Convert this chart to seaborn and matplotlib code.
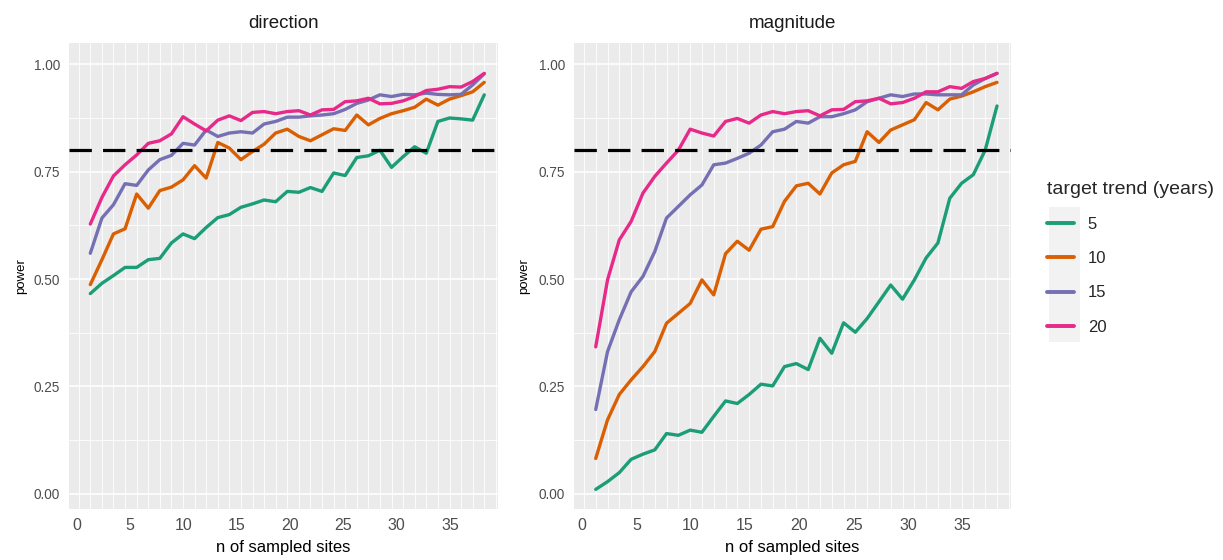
import numpy as np
import pandas as pd
import matplotlib
matplotlib.use("Agg")
import matplotlib.pyplot as plt
import seaborn as sns
from matplotlib.patches import Rectangle
from matplotlib.lines import Line2D

# ---------------- data ----------------
n_sites = [1.25, 2.34, 3.42, 4.51, 5.60, 6.69, 7.77, 8.86, 9.95, 11.03,
           12.12, 13.21, 14.29, 15.38, 16.47, 17.55, 18.64, 19.73, 20.82, 21.90,
           22.99, 24.08, 25.16, 26.25, 27.34, 28.42, 29.51, 30.60, 31.68, 32.77,
           33.86, 34.95, 36.03, 37.12, 38.21]

trends = ["5", "10", "15", "20"]
panels = ["direction", "magnitude"]

direction_5 = [0.466, 0.490, 0.508, 0.527, 0.527, 0.545, 0.548, 0.584, 0.605, 0.594,
               0.620, 0.643, 0.650, 0.667, 0.675, 0.684, 0.680, 0.704, 0.702, 0.713,
               0.704, 0.747, 0.741, 0.783, 0.787, 0.800, 0.760, 0.785, 0.808, 0.793,
               0.867, 0.875, 0.873, 0.870, 0.929]
direction_10 = [0.487, 0.545, 0.605, 0.617, 0.698, 0.665, 0.706, 0.714, 0.731, 0.764,
                0.735, 0.818, 0.805, 0.778, 0.797, 0.814, 0.840, 0.849, 0.832, 0.822,
                0.836, 0.850, 0.846, 0.882, 0.859, 0.874, 0.885, 0.892, 0.900, 0.919,
                0.905, 0.919, 0.927, 0.936, 0.958]
direction_15 = [0.560, 0.642, 0.673, 0.722, 0.718, 0.754, 0.778, 0.788, 0.816, 0.812,
                0.847, 0.832, 0.840, 0.843, 0.840, 0.861, 0.867, 0.877, 0.877, 0.880,
                0.882, 0.885, 0.895, 0.909, 0.917, 0.929, 0.925, 0.930, 0.929, 0.933,
                0.930, 0.929, 0.930, 0.952, 0.978]
direction_20 = [0.628, 0.690, 0.740, 0.766, 0.789, 0.816, 0.822, 0.838, 0.878, 0.861,
                0.845, 0.870, 0.880, 0.869, 0.888, 0.890, 0.885, 0.890, 0.892, 0.882,
                0.894, 0.895, 0.913, 0.915, 0.921, 0.908, 0.909, 0.915, 0.925, 0.939,
                0.942, 0.948, 0.947, 0.960, 0.979]

magnitude_5 = [0.010, 0.028, 0.049, 0.080, 0.092, 0.102, 0.140, 0.136, 0.148, 0.143,
               0.180, 0.216, 0.210, 0.231, 0.255, 0.251, 0.296, 0.303, 0.289, 0.362,
               0.327, 0.398, 0.376, 0.408, 0.447, 0.486, 0.453, 0.498, 0.549, 0.584,
               0.688, 0.723, 0.743, 0.800, 0.903]
magnitude_10 = [0.082, 0.172, 0.231, 0.265, 0.296, 0.331, 0.397, 0.420, 0.443, 0.498,
                0.463, 0.559, 0.588, 0.567, 0.616, 0.622, 0.681, 0.717, 0.723, 0.698,
                0.747, 0.766, 0.774, 0.843, 0.818, 0.847, 0.859, 0.871, 0.911, 0.894,
                0.919, 0.926, 0.936, 0.948, 0.958]
magnitude_15 = [0.196, 0.331, 0.405, 0.470, 0.506, 0.564, 0.642, 0.669, 0.696, 0.719,
                0.766, 0.770, 0.781, 0.793, 0.812, 0.843, 0.849, 0.867, 0.863, 0.878,
                0.878, 0.885, 0.894, 0.913, 0.921, 0.929, 0.925, 0.931, 0.931, 0.929,
                0.929, 0.929, 0.952, 0.967, 0.979]
magnitude_20 = [0.342, 0.498, 0.591, 0.634, 0.700, 0.739, 0.770, 0.800, 0.849, 0.840,
                0.833, 0.867, 0.874, 0.863, 0.882, 0.890, 0.885, 0.890, 0.892, 0.880,
                0.894, 0.895, 0.913, 0.915, 0.921, 0.908, 0.911, 0.921, 0.936, 0.936,
                0.948, 0.944, 0.960, 0.967, 0.979]

target_power = 0.8
x_ticks = [0, 5, 10, 15, 20, 25, 30, 35]
y_ticks = [0.00, 0.25, 0.50, 0.75, 1.00]
y_tick_labels = ["0.00", "0.25", "0.50", "0.75", "1.00"]

series = {
    ("direction", "5"): direction_5, ("direction", "10"): direction_10,
    ("direction", "15"): direction_15, ("direction", "20"): direction_20,
    ("magnitude", "5"): magnitude_5, ("magnitude", "10"): magnitude_10,
    ("magnitude", "15"): magnitude_15, ("magnitude", "20"): magnitude_20,
}
rows = []
for (panel, tr), vals in series.items():
    for n, p in zip(n_sites, vals):
        rows.append({"panel": panel, "trend": tr, "n": n, "power": p})
df = pd.DataFrame(rows)

# ---------------- style ----------------
sns.set_theme(style="darkgrid")
plt.rcParams["font.family"] = ["Liberation Sans", "DejaVu Sans"]

palette = dict(zip(trends, ["#1B9E77", "#D95F02", "#7570B3", "#E7298A"]))

W, H = 1223, 560
fig = plt.figure(figsize=(W / 100, H / 100), dpi=100)
fig.patch.set_facecolor("white")

def fx(px):
    return px / W

def fy(py):
    return 1 - py / H

top_px, bot_px = 43.3, 508.7
ax_specs = {
    "direction": [fx(69), fy(bot_px), fx(498) - fx(69), (bot_px - top_px) / H],
    "magnitude": [fx(574), fy(bot_px), fx(1011) - fx(574), (bot_px - top_px) / H],
}

step = n_sites[1] - n_sites[0]
grid_x = [n_sites[0] - step] + list(n_sites) + [n_sites[-1] + step]

for panel in panels:
    ax = fig.add_axes(ax_specs[panel])
    ax.set_facecolor("#EBEBEB")
    sub = df[df["panel"] == panel]
    sns.lineplot(data=sub, x="n", y="power", hue="trend", hue_order=trends,
                 palette=palette, linewidth=2.4, estimator=None, legend=False,
                 ax=ax, zorder=3)
    ax.axhline(target_power, color="black", linewidth=2.3,
               linestyle=(0, (7, 3.5)), zorder=4)

    ax.set_xlim(-0.75, 39.5)
    ax.set_ylim(-0.035, 1.049)
    ax.set_xticks(x_ticks)
    ax.set_xticklabels([str(t) for t in x_ticks])
    ax.set_xticks(grid_x, minor=True)
    ax.set_yticks(y_ticks)
    ax.set_yticklabels(y_tick_labels)
    ax.set_yticks([0.125, 0.375, 0.625, 0.875], minor=True)

    ax.grid(False)
    ax.grid(which="major", axis="y", color="white", linewidth=1.1)
    ax.grid(which="minor", axis="both", color="white", linewidth=0.6)
    ax.set_axisbelow(True)
    for s in ax.spines.values():
        s.set_visible(False)

    ax.tick_params(which="minor", length=0)
    ax.tick_params(axis="x", which="major", length=4, width=1.0, color="#333333",
                   labelsize=11.5, labelcolor="#4D4D4D", pad=2.5)
    ax.tick_params(axis="y", which="major", length=4, width=1.0, color="#333333",
                   labelsize=9.8, labelcolor="#4D4D4D", pad=2.5)

    ax.set_title(panel, fontsize=13.5, color="#1A1A1A", pad=11)
    ax.set_xlabel("n of sampled sites", fontsize=12, color="black")
    ax.xaxis.set_label_coords(0.5, -0.068)
    ax.set_ylabel("power", fontsize=9.5, color="black")

fig.axes[0].yaxis.set_label_coords((27 - 69) / (498 - 69), 0.5)
fig.axes[1].yaxis.set_label_coords((530 - 574) / (1011 - 574), 0.5)

# legend key background
fig.patches.append(Rectangle((fx(1049), fy(342)), fx(31), 135 / H,
                             transform=fig.transFigure, facecolor="#F2F2F2",
                             edgecolor="none", zorder=0))
handles = [Line2D([], [], color=palette[t], linewidth=2.8) for t in trends]
leg = fig.legend(handles, trends, title="target trend (years)",
                 loc="upper left", bbox_to_anchor=(fx(1047), fy(181)),
                 frameon=False, fontsize=12, title_fontsize=14,
                 handlelength=1.6, handletextpad=0.85, labelspacing=1.15,
                 borderpad=0, borderaxespad=0, alignment="left")

fig.savefig("out.png", dpi=100, facecolor="white")
